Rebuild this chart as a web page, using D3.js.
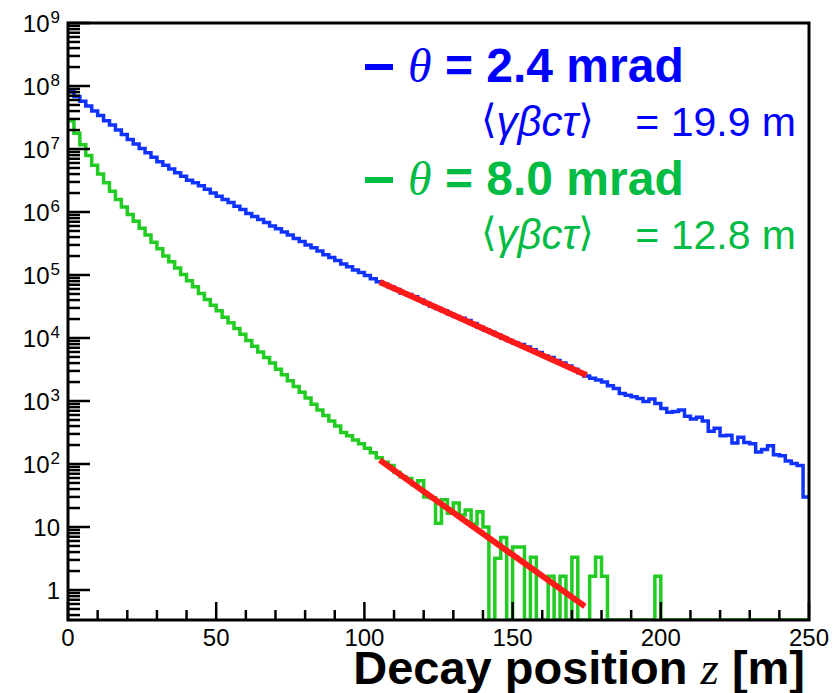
<!DOCTYPE html>
<html>
<head>
<meta charset="utf-8">
<script src="https://cdn.jsdelivr.net/npm/d3@7"></script>
<style>
  body { margin: 0; background: #fff; }
  text { font-family: "Liberation Sans", Arial, Helvetica, sans-serif; }
</style>
</head>
<body>
<div id="chart"></div>
<script>
// histogram bins are 2 m wide, starting at z = 0
const binWidth = 2;

// theta = 2.4 mrad, counts per bin
const blueCounts = [
  8.1e7, 6.8e7, 5.75e7, 4.8e7, 4.0e7, 3.4e7, 2.8e7, 2.4e7, 2.0e7, 1.7e7,
  1.41e7, 1.2e7, 1.02e7, 8.7e6, 7.4e6, 6.3e6, 5.5e6, 4.8e6, 4.2e6, 3.7e6,
  3.2e6, 2.9e6, 2.6e6, 2.3e6, 2.0e6, 1.78e6, 1.58e6, 1.41e6, 1.23e6, 1.1e6,
  9.5e5, 8.5e5, 7.6e5, 6.8e5, 6.0e5, 5.4e5, 4.8e5, 4.3e5, 3.8e5, 3.4e5,
  3.0e5, 2.7e5, 2.4e5, 2.1e5, 1.9e5, 1.7e5, 1.5e5, 1.35e5, 1.2e5, 1.1e5,
  9.8e4, 8.7e4, 7.8e4, 7.1e4, 6.5e4, 5.9e4, 5.2e4, 4.9e4, 4.5e4, 4.0e4,
  3.55e4, 3.2e4, 2.95e4, 2.7e4, 2.4e4, 2.2e4, 2.05e4, 1.9e4, 1.7e4, 1.5e4,
  1.35e4, 1.23e4, 1.12e4, 1.0e4, 9.1e3, 8.3e3, 7.9e3, 7.2e3, 6.5e3, 5.9e3,
  5.2e3, 4.9e3, 4.4e3, 4.0e3, 3.6e3, 3.2e3, 2.8e3, 2.5e3, 2.3e3, 2.15e3,
  2.0e3, 1.74e3, 1.58e3, 1.32e3, 1.23e3, 1.17e3, 1.1e3, 980, 1.08e3, 910,
  760, 660, 680, 720, 575, 520, 550, 480, 330, 370,
  280, 285, 215, 265, 220, 210, 155, 170, 195, 140,
  135, 112, 102, 95, 30
];

// theta = 8.0 mrad, counts per bin
const greenCounts = [
  2.8e7, 1.78e7, 1.17e7, 7.9e6, 5.5e6, 4.0e6, 2.9e6, 2.14e6, 1.58e6, 1.2e6,
  9.1e5, 7.1e5, 5.5e5, 4.3e5, 3.3e5, 2.6e5, 2.0e5, 1.62e5, 1.29e5, 1.02e5,
  8.1e4, 6.5e4, 5.1e4, 4.1e4, 3.3e4, 2.7e4, 2.14e4, 1.74e4, 1.41e4, 1.15e4,
  9.1e3, 7.4e3, 6.0e3, 4.9e3, 4.0e3, 3.2e3, 2.6e3, 2.1e3, 1.7e3, 1.38e3,
  1.12e3, 890, 720, 590, 480, 400, 316, 280, 240, 210,
  178, 151, 126, 107, 95, 74, 63, 59, 47, 54,
  30, 29, 11.5, 27, 16.6, 24, 15.5, 18.6, 11.2, 17.4,
  10, 0, 3.2, 6.8, 0, 4.8, 4.8, 0, 3.3, 0,
  0, 1.66, 0, 1.66, 0, 3.3, 0, 0, 1.66, 3.3,
  1.66, 0, 0, 0, 0, 0, 0, 0, 0, 1.66,
  0, 0, 0, 0, 0, 0, 0, 0, 0, 0,
  0, 0, 0, 0, 0, 0, 0, 0, 0, 0,
  0, 0, 0, 0, 0
];

// exponential fits, drawn as straight segments on the log axis [z, counts]
const blueFit = [[105.2, 7.76e4], [175, 2.57e3]];
const greenFit = [[105.2, 115], [174.4, 0.55]];

const xTicks = [0, 50, 100, 150, 200, 250];
const yDecades = [0, 1, 2, 3, 4, 5, 6, 7, 8, 9];

const legendRows = [
  { theta: "2.4", length: "19.9", color: "#0000ff", line: "#1133ff" },
  { theta: "8.0", length: "12.8", color: "#00bb44", line: "#22cc22" }
];

const W = 838, H = 693;
const frame = { left: 68, right: 809, top: 23, bottom: 620 };

const x = d3.scaleLinear().domain([0, 250]).range([frame.left, frame.right]);
const y = d3.scaleLog().domain([0.334, 1e9]).range([frame.bottom, frame.top]);

const svg = d3.select("#chart").append("svg")
  .attr("width", W).attr("height", H);

svg.append("clipPath").attr("id", "clip")
  .append("rect")
  .attr("x", frame.left).attr("y", frame.top)
  .attr("width", frame.right - frame.left)
  .attr("height", frame.bottom - frame.top);

const plot = svg.append("g").attr("clip-path", "url(#clip)");

function histPath(counts) {
  const pts = counts.map((c, i) => [i * binWidth, c]);
  pts.push([counts.length * binWidth, counts[counts.length - 1]]);
  return d3.line()
    .x(d => x(d[0]))
    .y(d => (d[1] > 0 ? y(d[1]) : frame.bottom))
    .curve(d3.curveStepAfter)(pts);
}

plot.append("path")
  .attr("d", histPath(greenCounts))
  .attr("fill", "none")
  .attr("stroke", legendRows[1].line)
  .attr("stroke-width", 3.5);

plot.append("path")
  .attr("d", histPath(blueCounts))
  .attr("fill", "none")
  .attr("stroke", legendRows[0].line)
  .attr("stroke-width", 3.5);

const fitLine = d3.line().x(d => x(d[0])).y(d => y(d[1]));
[blueFit, greenFit].forEach(f => {
  plot.append("path")
    .attr("d", fitLine(f))
    .attr("fill", "none")
    .attr("stroke", "#ff1a1a")
    .attr("stroke-width", 6);
});

// axes: ticks point into the frame, labels drawn by hand
const xMinor = d3.range(0, 251, 10).filter(v => v % 50 !== 0);
const yMinor = [];
for (let d = -1; d < 9; d++) {
  for (let k = 2; k <= 9; k++) {
    const v = k * Math.pow(10, d);
    if (v > 0.334 && v < 1e9) yMinor.push(v);
  }
}
const yMajor = yDecades.map(d => Math.pow(10, d));

const ax = svg.append("g").attr("stroke", "#000");

ax.selectAll(".xmaj").data(xTicks).enter().append("line")
  .attr("x1", d => x(d)).attr("x2", d => x(d))
  .attr("y1", frame.bottom).attr("y2", frame.bottom - 18)
  .attr("stroke-width", 2.5);
ax.selectAll(".xmin").data(xMinor).enter().append("line")
  .attr("x1", d => x(d)).attr("x2", d => x(d))
  .attr("y1", frame.bottom).attr("y2", frame.bottom - 10)
  .attr("stroke-width", 2.5);
ax.selectAll(".ymaj").data(yMajor).enter().append("line")
  .attr("x1", frame.left).attr("x2", frame.left + 22)
  .attr("y1", d => y(d)).attr("y2", d => y(d))
  .attr("stroke-width", 2.5);
ax.selectAll(".ymin").data(yMinor).enter().append("line")
  .attr("x1", frame.left).attr("x2", frame.left + 12)
  .attr("y1", d => y(d)).attr("y2", d => y(d))
  .attr("stroke-width", 2.5);

svg.append("rect")
  .attr("x", frame.left).attr("y", frame.top)
  .attr("width", frame.right - frame.left)
  .attr("height", frame.bottom - frame.top)
  .attr("fill", "none")
  .attr("stroke", "#000")
  .attr("stroke-width", 3);

svg.selectAll(".xlab").data(xTicks).enter().append("text")
  .attr("x", d => x(d))
  .attr("y", 646)
  .attr("text-anchor", "middle")
  .attr("font-size", 24)
  .text(d => d);

yDecades.forEach(d => {
  const t = svg.append("text")
    .attr("x", 60)
    .attr("y", y(Math.pow(10, d)) + 9)
    .attr("text-anchor", "end")
    .attr("font-size", 24);
  if (d === 0) t.text("1");
  else if (d === 1) t.text("10");
  else {
    t.append("tspan").text("10");
    t.append("tspan").attr("font-size", 17).attr("dy", -9).attr("dx", 1).text(d);
  }
});

// x axis title
const title = svg.append("text")
  .attr("x", 805).attr("y", 684)
  .attr("text-anchor", "end")
  .attr("font-size", 47)
  .attr("font-weight", "bold");
title.append("tspan").text("Decay position ");
title.append("tspan")
  .attr("font-family", "'Liberation Serif', 'DejaVu Serif', serif")
  .attr("font-style", "italic").attr("font-weight", "normal")
  .text("z");
title.append("tspan").text(" [m]");

// legend
legendRows.forEach((r, i) => {
  const base = 82 + i * 113;
  svg.append("line")
    .attr("x1", 365).attr("x2", 393)
    .attr("y1", base - 15).attr("y2", base - 15)
    .attr("stroke", r.color).attr("stroke-width", 6);
  const t1 = svg.append("text")
    .attr("x", 408).attr("y", base)
    .attr("fill", r.color)
    .attr("font-size", 48)
    .attr("font-weight", "bold");
  t1.append("tspan")
    .attr("font-family", "'Liberation Serif', 'DejaVu Serif', serif")
    .attr("font-style", "italic").attr("font-weight", "normal")
    .text("θ");
  t1.append("tspan").text(" = " + r.theta + " mrad");

  const t2 = svg.append("text")
    .attr("x", 481).attr("y", base + 54)
    .attr("fill", r.color)
    .attr("font-size", 42)
    .attr("font-family", "'Liberation Serif', 'DejaVu Serif', serif");
  t2.append("tspan")
    .attr("font-family", "'DejaVu Sans', sans-serif")
    .attr("font-size", 40).attr("dy", -3)
    .text("⟨");
  t2.append("tspan")
    .attr("font-style", "italic").attr("dy", 3)
    .text("γβcτ");
  t2.append("tspan")
    .attr("font-family", "'DejaVu Sans', sans-serif")
    .attr("font-size", 40).attr("dy", -3)
    .text("⟩");
  svg.append("text")
    .attr("x", 796).attr("y", base + 54)
    .attr("text-anchor", "end")
    .attr("fill", r.color)
    .attr("font-size", 41)
    .text("= " + r.length + " m");
});
</script>
</body>
</html>
